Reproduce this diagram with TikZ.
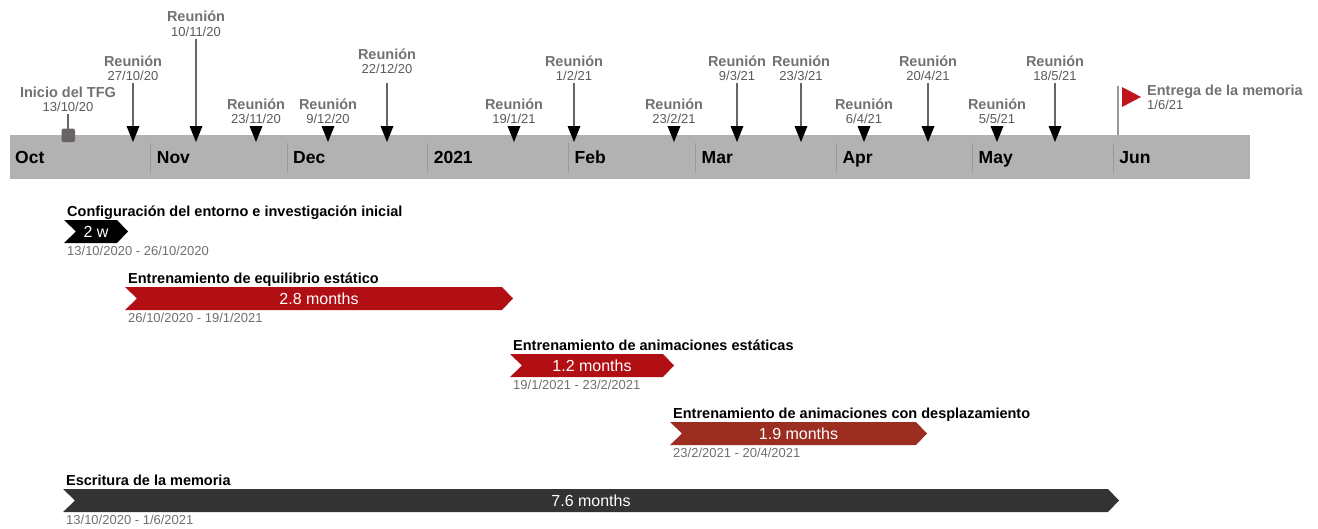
\documentclass[tikz,border=0pt]{standalone}
\usepackage{fontspec}
\setmainfont{Liberation Sans}
\definecolor{tlgray}{HTML}{B2B2B2}
\definecolor{sepgray}{HTML}{999999}
\definecolor{lblgray}{HTML}{727272}
\definecolor{dategray}{HTML}{5A5A5A}
\definecolor{stemgray}{HTML}{666666}
\definecolor{sqgray}{HTML}{686464}
\definecolor{tdategray}{HTML}{707070}
\definecolor{redA}{HTML}{B20F14}
\definecolor{redB}{HTML}{9B2D21}
\definecolor{darkbar}{HTML}{333333}
\definecolor{flagred}{HTML}{C0141C}
\tikzset{
  monthlbl/.style={anchor=base west,inner sep=0,font=\fontsize{17.5}{20}\selectfont\bfseries},
  reulbl/.style={anchor=base,inner sep=0,text=lblgray,font=\fontsize{14.5}{16}\selectfont\bfseries},
  reudate/.style={anchor=base,inner sep=0,text=dategray,font=\fontsize{13}{15}\selectfont},
  stemline/.style={draw=stemgray,line width=1.5},
  tasktitle/.style={anchor=base west,inner sep=0,font=\fontsize{14.5}{17}\selectfont\bfseries},
  barlbl/.style={anchor=base,inner sep=0,text=white,font=\fontsize{16}{18}\selectfont},
  taskdate/.style={anchor=base west,inner sep=0,text=tdategray,font=\fontsize{13}{15}\selectfont},
}
% name, x, label baseline, date baseline, date
\newcommand{\tlReu}[5]{%
  \node[reulbl] (#1l) at (#2,#3) {Reunión};
  \node[reudate] (#1d) at (#2,#4) {#5};
  \coordinate (#1t) at (#2,126);
  \fill (#2-6.5,126) -- (#2+6.5,126) -- (#2,142) -- cycle;
}
% name, x0, x1, T, color, title, bar label, dates
\newcommand{\tlTask}[8]{%
  \node[tasktitle] (#1t) at (#2+3,#4-4) {#6};
  \fill[#5] (#2,#4) -- (#3-11,#4) -- (#3,#4+11.5) -- (#3-11,#4+23) -- (#2,#4+23) -- (#2+12,#4+11.5) -- cycle;
  \node[barlbl] (#1b) at ({(#2+#3)/2},#4+17.5) {#7};
  \node[taskdate] (#1d) at (#2+3,#4+35) {#8};
}
\begin{document}
\begin{tikzpicture}[x=1pt,y=-1pt]
\useasboundingbox (0,0) rectangle (1318,528);
% timeline bar
\fill[tlgray] (10,135) rectangle (1250,179);
\foreach \sx in {150.7,287,427.6,568.4,695.5,836.3,972.5,1113.2}
  \draw[sepgray,line width=1] (\sx,143) -- (\sx,173);
\node[monthlbl] (mOct) at (15,163) {Oct};
\node[monthlbl] (mNov) at (156.7,163) {Nov};
\node[monthlbl] (mDec) at (293,163) {Dec};
\node[monthlbl] (mJan) at (433.6,163) {2021};
\node[monthlbl] (mFeb) at (574.4,163) {Feb};
\node[monthlbl] (mMar) at (701.5,163) {Mar};
\node[monthlbl] (mApr) at (842.3,163) {Apr};
\node[monthlbl] (mMay) at (978.5,163) {May};
\node[monthlbl] (mJun) at (1119.2,163) {Jun};
% start marker
\node[reulbl] (inil) at (68,97) {Inicio del TFG};
\node[reudate] (inid) at (68,111.5) {13/10/20};
\coordinate (inis) at (68,113.5);
\coordinate (inisq) at (68,129);
\draw[stemline] (inis) -- (inisq);
\fill[sqgray,rounded corners=1.5] (61.5,128.5) rectangle (75,142);
% meetings
\tlReu{a}{133}{66}{80}{27/10/20}
\tlReu{b}{196}{21.5}{36}{10/11/20}
\tlReu{c}{256}{109}{123.5}{23/11/20}
\tlReu{d}{328}{109}{123.5}{9/12/20}
\tlReu{e}{387}{59}{73}{22/12/20}
\tlReu{f}{514}{109}{123.5}{19/1/21}
\tlReu{g}{574}{66}{80}{1/2/21}
\tlReu{h}{674}{109}{123.5}{23/2/21}
\tlReu{i}{737}{66}{80}{9/3/21}
\tlReu{j}{801}{66}{80}{23/3/21}
\tlReu{k}{864}{109}{123.5}{6/4/21}
\tlReu{l}{928}{66}{80}{20/4/21}
\tlReu{m}{997}{109}{123.5}{5/5/21}
\tlReu{n}{1055}{66}{80}{18/5/21}
\coordinate (as) at (133,83);
\coordinate (bs) at (196,38.5);
\coordinate (es) at (387,83);
\coordinate (gs) at (574,83);
\coordinate (is) at (737,83);
\coordinate (js) at (801,83);
\coordinate (ls) at (928,83);
\coordinate (ns) at (1055,83);
\foreach \q in {a,b,e,g,i,j,l,n}
  \draw[stemline] (\q s) -- (\q t);
% delivery flag
\coordinate (poletop) at (1118,86);
\coordinate (polebot) at (1118,135);
\draw[stemline,draw=sepgray] (poletop) -- (polebot);
\fill[flagred] (1122,87) -- (1122,107) -- (1141,97) -- cycle;
\node[reulbl,anchor=base west] (entl) at (1147,95) {Entrega de la memoria};
\node[reudate,anchor=base west] (entd) at (1147,109) {1/6/21};
% tasks
\tlTask{t1}{64}{128}{220}{black}{Configuración del entorno e investigación inicial}{2 w}{13/10/2020 - 26/10/2020}
\tlTask{t2}{125}{513}{287}{redA}{Entrenamiento de equilibrio estático}{2.8 months}{26/10/2020 - 19/1/2021}
\tlTask{t3}{510}{674}{354}{redA}{Entrenamiento de animaciones estáticas}{1.2 months}{19/1/2021 - 23/2/2021}
\tlTask{t4}{670}{927}{422}{redB}{Entrenamiento de animaciones con desplazamiento}{1.9 months}{23/2/2021 - 20/4/2021}
\tlTask{t5}{63}{1119}{489}{darkbar}{Escritura de la memoria}{7.6 months}{13/10/2020 - 1/6/2021}
\end{tikzpicture}
\end{document}
